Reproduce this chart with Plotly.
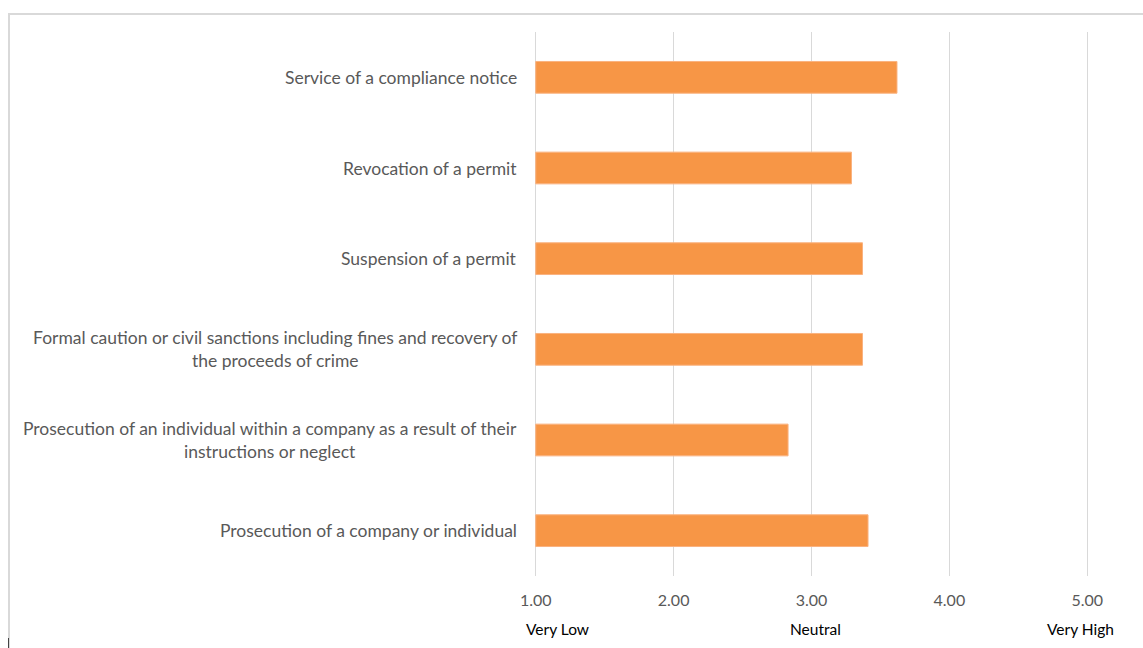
import plotly.graph_objects as go

# Enforcement measures (bottom to top as drawn) and their mean ratings
measures = [
    "Prosecution of a company or individual",
    "Prosecution of an individual within a company as a result of their<br>instructions or neglect",
    "Formal caution or civil sanctions including fines and recovery of<br>the proceeds of crime",
    "Suspension of a permit",
    "Revocation of a permit",
    "Service of a compliance notice",
]
ratings = [3.41, 2.83, 3.37, 3.37, 3.29, 3.62]

tick_values = [1, 2, 3, 4, 5]
tick_labels = ["1.00", "2.00", "3.00", "4.00", "5.00"]

scale_labels = ["Very Low", "Neutral", "Very High"]
scale_positions = [1.16, 3.03, 4.95]

W, H = 1143, 648
L, R, T, B = 533, 53, 32, 72
pw, ph = W - L - R, H - T - B
X_RANGE = [0.98, 5.02]

FONT = "Lato"
GREY = "#595959"

fig = go.Figure(
    go.Bar(
        x=[r - 1 for r in ratings],
        base=1,
        y=list(range(len(measures))),
        orientation="h",
        width=0.35,
        marker=dict(color="#F79646", line=dict(color="#FAB27F", width=1)),
        hoverinfo="skip",
    )
)

annotations = []
for i, m in enumerate(measures):
    annotations.append(dict(
        x=1, xref="x", xshift=-17, y=i, yref="y",
        text=m, showarrow=False, xanchor="right", yanchor="middle",
        align="center", font=dict(family=FONT, size=17.5, color=GREY),
    ))
for lab, pos in zip(scale_labels, scale_positions):
    annotations.append(dict(
        x=pos, xref="x", y=-0.098, yref="paper",
        text=lab, showarrow=False, xanchor="center", yanchor="middle",
        font=dict(family=FONT, size=15.5, color="#000000"),
    ))


def px_x(p):
    return (p - L) / pw


def px_y(p):
    return (H - B - p) / ph


# light frame on the left and top edges of the chart
shapes = [
    dict(type="path", xref="paper", yref="paper",
         path=f"M {px_x(9)} {px_y(H + 5)} L {px_x(9)} {px_y(14)} L {px_x(W + 5)} {px_y(14)}",
         line=dict(color="#D9D9D9", width=2)),
    dict(type="line", xref="paper", yref="paper",
         x0=px_x(8.5), x1=px_x(8.5), y0=px_y(638), y1=px_y(H + 5),
         line=dict(color="#444444", width=1)),
]

fig.update_layout(
    width=W, height=H,
    margin=dict(l=L, r=R, t=T, b=B),
    paper_bgcolor="white", plot_bgcolor="white",
    showlegend=False,
    xaxis=dict(
        range=X_RANGE, tickvals=tick_values, ticktext=tick_labels,
        showgrid=True, gridcolor="#D9D9D9", gridwidth=1,
        zeroline=False, showline=False, ticks="",
        tickfont=dict(family=FONT, size=16, color=GREY),
        ticklabelstandoff=13,
    ),
    yaxis=dict(
        range=[-0.5, len(measures) - 0.5], showticklabels=False,
        showgrid=False, zeroline=False, showline=False, ticks="",
    ),
    annotations=annotations,
    shapes=shapes,
)

fig.write_html("out.html")
